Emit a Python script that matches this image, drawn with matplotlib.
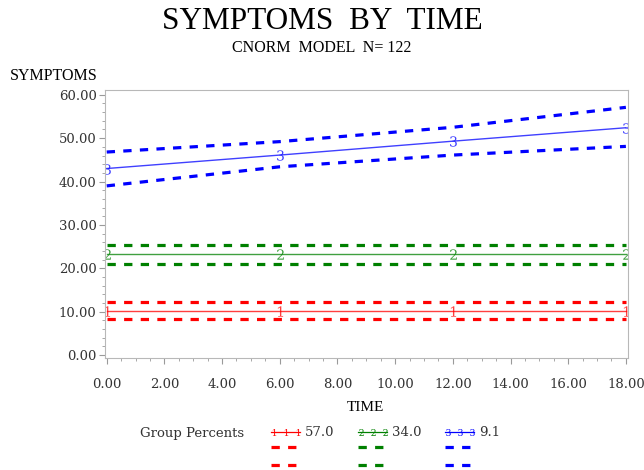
import matplotlib
matplotlib.use('Agg')
import matplotlib.pyplot as plt
from matplotlib.ticker import MultipleLocator, FormatStrFormatter

# trajectory groups: estimated mean and 95% band at each time point
time = [0, 6, 12, 18]
group_ids = ['1', '2', '3']
group_pct = ['57.0', '34.0', '9.1']
group_colors = ['#ff0000', '#008000', '#0000ff']

mean_1 = [10.2, 10.2, 10.2, 10.2]
upper_1 = [12.2, 12.2, 12.2, 12.2]
lower_1 = [8.3, 8.3, 8.3, 8.3]

mean_2 = [23.3, 23.3, 23.3, 23.3]
upper_2 = [25.4, 25.4, 25.4, 25.4]
lower_2 = [20.9, 20.9, 20.9, 20.9]

mean_3 = [43.0, 46.1, 49.3, 52.4]
upper_3 = [46.8, 49.2, 52.5, 57.1]
lower_3 = [39.0, 43.4, 46.1, 48.1]

means = [mean_1, mean_2, mean_3]
uppers = [upper_1, upper_2, upper_3]
lowers = [lower_1, lower_2, lower_3]

plt.rcParams['mathtext.fontset'] = 'dejavuserif'
serif = 'Liberation Serif'
tick_font = 'DejaVu Serif'
dash = (0, (2.6, 2.6))
band_lw = 2.3

fig = plt.figure(figsize=(6.44, 4.70), dpi=100)
ax = fig.add_axes([0.163, 0.238, 0.812, 0.571])

for gid, col, m, u, l in zip(group_ids, group_colors, means, uppers, lowers):
    ax.plot(time, m, color=col, lw=1.0, alpha=0.75,
            marker='$%s$' % gid, markersize=7.5, markeredgewidth=0)
    ax.plot(time, u, color=col, lw=band_lw, linestyle=dash)
    ax.plot(time, l, color=col, lw=band_lw, linestyle=dash)

ax.set_xlim(-0.06, 18.07)
ax.set_ylim(-0.7, 61.15)
ax.xaxis.set_major_locator(MultipleLocator(2))
ax.xaxis.set_minor_locator(MultipleLocator(0.5))
ax.yaxis.set_major_locator(MultipleLocator(10))
ax.yaxis.set_minor_locator(MultipleLocator(2))
ax.xaxis.set_major_formatter(FormatStrFormatter('%.2f'))
ax.yaxis.set_major_formatter(FormatStrFormatter('%.2f'))
for s in ax.spines.values():
    s.set_color('#b8b8b8')
ax.tick_params(which='both', colors='#9a9a9a', labelcolor='#333333',
               direction='out')
ax.tick_params(which='major', length=4, pad=2)
ax.tick_params(axis='x', which='major', pad=10)
ax.tick_params(which='minor', length=2)
for lab in ax.get_xticklabels() + ax.get_yticklabels():
    lab.set_family(tick_font)
    lab.set_fontsize(9.5)

fig.text(0.5, 0.955, 'SYMPTOMS  BY  TIME', ha='center', va='center',
         family=serif, fontsize=22.5)
fig.text(0.5, 0.898, 'CNORM  MODEL  N= 122', ha='center', va='center',
         family=serif, fontsize=11.5)
fig.text(0.016, 0.838, 'SYMPTOMS', ha='left', va='center',
         family=serif, fontsize=11.5)
fig.text(0.567, 0.134, 'TIME', ha='center', va='center',
         family=serif, fontsize=11)

# legend block below the axis, laid out in pixel units
lg = fig.add_axes([0, 0, 1, 1])
lg.set_xlim(0, 644)
lg.set_ylim(470, 0)
lg.axis('off')
lg.text(140, 433, 'Group Percents', ha='left', va='center',
        family=tick_font, fontsize=9.5, color='#333333')
starts = [271, 358, 445]
for x0, gid, col, pct in zip(starts, group_ids, group_colors, group_pct):
    lg.plot([x0, x0 + 29], [432, 432], color=col, lw=0.9)
    lg.plot([x0 + 3, x0 + 15, x0 + 27], [432, 432, 432], color=col,
            linestyle='none', marker='$%s$' % gid, markersize=5,
            markeredgewidth=0)
    lg.text(x0 + 34, 433, pct, ha='left', va='center', family=tick_font,
            fontsize=9.5, color='#333333')
    for yy in (447, 465):
        lg.plot([x0, x0 + 27], [yy, yy], color=col, lw=band_lw, linestyle=dash)

fig.savefig('out.png', dpi=100)
